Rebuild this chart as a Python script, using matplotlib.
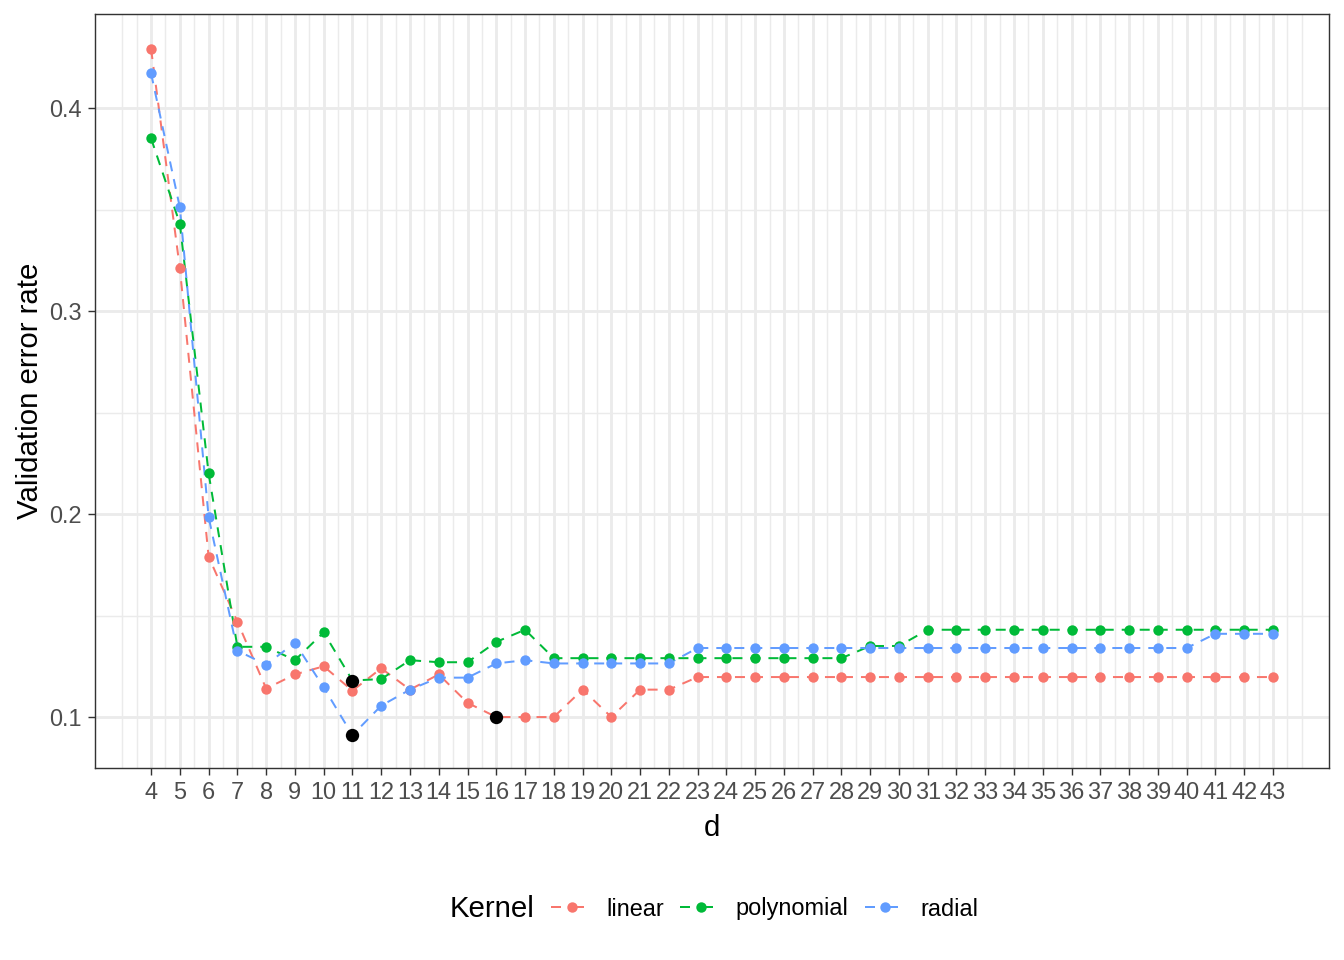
import matplotlib
matplotlib.use("Agg")
import matplotlib.pyplot as plt
import numpy as np
from matplotlib.lines import Line2D

plt.rcParams['font.family'] = ['Liberation Sans', 'DejaVu Sans']

d = list(range(4, 44))
linear = [0.429, 0.321, 0.179, 0.147, 0.114, 0.121, 0.125, 0.113, 0.124, 0.1135,
          0.121, 0.107, 0.100, 0.100, 0.100, 0.1135, 0.100, 0.1135, 0.1135] + [0.1197] * 21
polynomial = [0.385, 0.343, 0.220, 0.1346, 0.1346, 0.128, 0.1417, 0.118, 0.1187, 0.128,
              0.127, 0.127, 0.137, 0.143, 0.129, 0.129, 0.129, 0.129, 0.129,
              0.129, 0.129, 0.129, 0.129, 0.129, 0.129, 0.135, 0.135] + [0.143] * 13
radial = [0.417, 0.351, 0.1985, 0.1327, 0.1258, 0.1366, 0.1146, 0.0911, 0.1056, 0.1135,
          0.1194, 0.1194, 0.1264, 0.128, 0.1264, 0.1264, 0.1264, 0.1264, 0.1264] + [0.134] * 18 + [0.141] * 3

kernels = ["linear", "polynomial", "radial"]
series = [linear, polynomial, radial]
colors = ["#F8766D", "#00BA38", "#619CFF"]

fig = plt.figure(figsize=(7, 5), dpi=192)
ax = fig.add_axes([95/1344, 1-768/960, (1329-95)/1344, (768-14)/960])

ax.set_xlim(4 - 0.05*39, 43 + 0.05*39)
ax.set_ylim(0.0749, 0.4463)

# grid
for x in np.arange(3, 44.01, 0.5):
    if x >= 4 and x <= 43 and float(x).is_integer():
        continue
    ax.axvline(x, color="#EBEBEB", lw=0.53, zorder=0)
for x in d:
    ax.axvline(x, color="#EBEBEB", lw=1.07, zorder=0)
for y in [0.15, 0.25, 0.35]:
    ax.axhline(y, color="#EBEBEB", lw=0.53, zorder=0)
for y in [0.1, 0.2, 0.3, 0.4]:
    ax.axhline(y, color="#EBEBEB", lw=1.07, zorder=0)

handles = []
for name, vals, c in zip(kernels, series, colors):
    ax.plot(d, vals, color=c, lw=0.75, ls=(0, (5, 4)), zorder=2)
    ax.plot(d, vals, color=c, lw=0, marker='o', markersize=3.9, markeredgewidth=0, zorder=3)
    i = int(np.argmin(vals))
    ax.plot([d[i]], [vals[i]], color='black', lw=0, marker='o', markersize=5.0, markeredgewidth=0, zorder=4)
    handles.append(Line2D([0], [0], color=c, lw=0.75, ls=(0, (5, 6.5)), marker='o', markersize=3.9,
                          markeredgewidth=0))

ax.set_xticks(d)
ax.set_xticklabels([str(v) for v in d])
ax.set_yticks([0.1, 0.2, 0.3, 0.4])
ax.set_yticklabels(["0.1", "0.2", "0.3", "0.4"])
ax.tick_params(axis='both', length=2.75, width=0.53, color="#333333", labelcolor="#4D4D4D",
               labelsize=8.8, pad=2.2)
for s in ax.spines.values():
    s.set_color("#333333")
    s.set_linewidth(0.53)

ax.set_xlabel("d", fontsize=11, labelpad=3.5)
ax.set_ylabel("Validation error rate", fontsize=11, labelpad=1.8)

fig.text(450/1344, 1-909/960, "Kernel", fontsize=11, ha='left', va='center')
leg = fig.legend(handles, kernels, loc='center left', bbox_to_anchor=(551/1344, 1-909/960),
                 ncol=3, frameon=False, fontsize=8.8, handlelength=1.75, handletextpad=0.6,
                 columnspacing=0.7, borderaxespad=0, borderpad=0)

fig.savefig("out.png", dpi=192)
